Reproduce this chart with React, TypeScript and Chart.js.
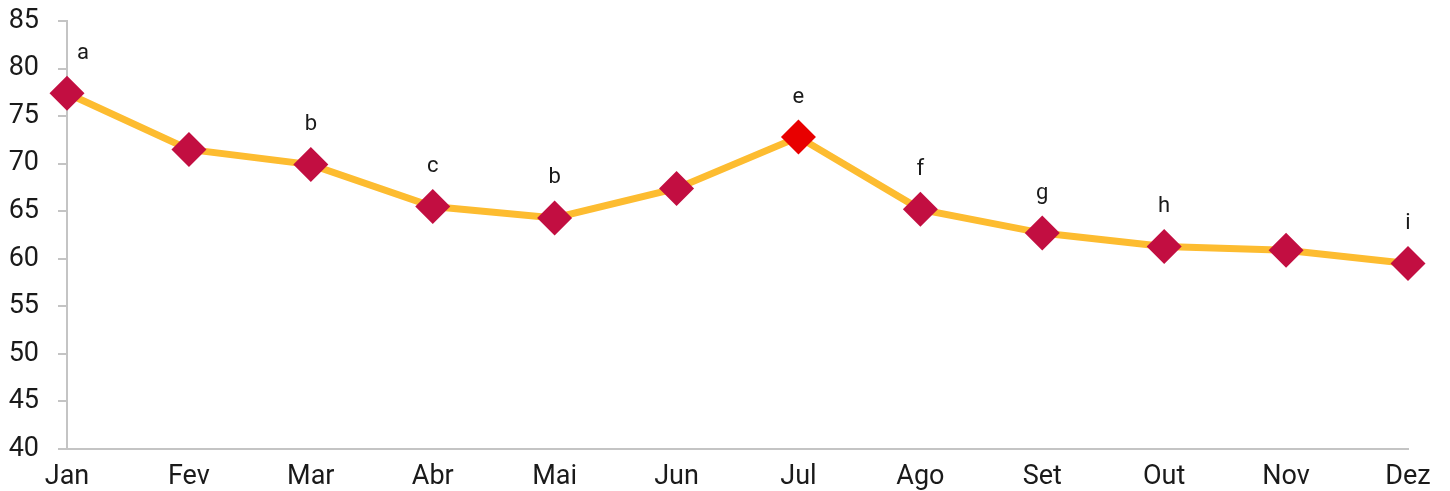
import React, { useEffect, useRef } from "react";
import { Chart, registerables } from "chart.js";

Chart.register(...registerables);

const months = ["Jan", "Fev", "Mar", "Abr", "Mai", "Jun", "Jul", "Ago", "Set", "Out", "Nov", "Dez"];
const values = [77.4, 71.5, 69.9, 65.5, 64.3, 67.4, 72.8, 65.2, 62.7, 61.3, 60.9, 59.5];
const pointLabels = ["a", "", "b", "c", "b", "", "e", "f", "g", "h", "", "i"];
const pointColors = ["#C20E41", "#C20E41", "#C20E41", "#C20E41", "#C20E41", "#C20E41", "#E80000", "#C20E41", "#C20E41", "#C20E41", "#C20E41", "#C20E41"];

const FONT = "Roboto, 'DejaVu Sans', sans-serif";

const labelPlugin = {
  id: "pointLetters",
  afterDatasetsDraw(chart: any) {
    const ctx = chart.ctx;
    const meta = chart.getDatasetMeta(0);
    ctx.save();
    ctx.font = `22px ${FONT}`;
    ctx.fillStyle = "#1a1a1a";
    ctx.textAlign = "center";
    ctx.textBaseline = "middle";
    meta.data.forEach((pt: any, i: number) => {
      const t = pointLabels[i];
      if (t) ctx.fillText(t, pt.x + (i === 0 ? 16 : 0), pt.y - 40);
    });
    ctx.restore();
  },
};

export default function App() {
  const ref = useRef<HTMLCanvasElement>(null);
  useEffect(() => {
    const chart = new Chart(ref.current!, {
      type: "line",
      data: {
        labels: months,
        datasets: [
          {
            data: values,
            borderColor: "#FDBC30",
            borderWidth: 7,
            pointStyle: "rectRot",
            pointRadius: 17.5,
            pointHoverRadius: 17.5,
            pointBackgroundColor: pointColors,
            pointBorderColor: pointColors,
            pointBorderWidth: 0,
            tension: 0,
            clip: false,
          },
        ],
      },
      options: {
        responsive: false,
        animation: false,
        layout: { autoPadding: false, padding: { top: 0, right: 34, left: 0, bottom: 0 } },
        plugins: { legend: { display: false }, tooltip: { enabled: false } },
        scales: {
          x: {
            offset: false,
            grid: { display: false, drawTicks: false },
            border: { color: "#C4C4C4", width: 2 },
            ticks: { font: { family: FONT, size: 27 }, color: "#1a1a1a", padding: 12, maxRotation: 0, autoSkip: false },
            afterFit: (s: any) => { s.height = 42; s.paddingLeft = 0; s.paddingRight = 0; },
          },
          y: {
            min: 40,
            max: 85,
            grid: { drawOnChartArea: false, drawTicks: true, tickLength: 9, color: "#C4C4C4", lineWidth: 2 },
            border: { color: "#C4C4C4", width: 2 },
            ticks: { stepSize: 5, font: { family: FONT, size: 27, lineHeight: 1 }, color: "#1a1a1a", padding: 19 },
            afterFit: (s: any) => { s.width = 59; s.paddingTop = 13; s.paddingBottom = 0; },
          },
        },
      },
      plugins: [labelPlugin],
    });
    return () => chart.destroy();
  }, []);
  return <canvas ref={ref} width={1434} height={483} style={{ display: "block" }} />;
}
